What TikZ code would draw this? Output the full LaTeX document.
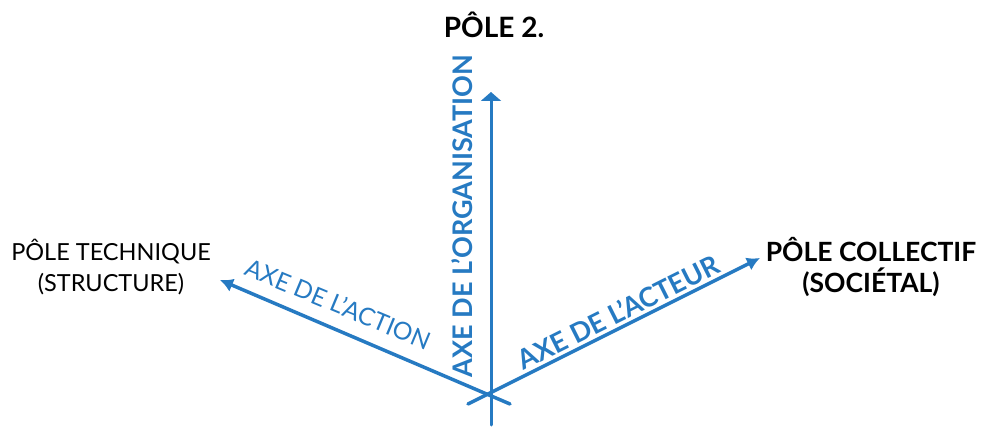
\documentclass[tikz,border=0pt]{standalone}
\usepackage{fontspec}
\setmainfont{Lato}
\usetikzlibrary{arrows.meta}
\definecolor{axblue}{RGB}{38,122,194}
\begin{document}
\begin{tikzpicture}[x=1pt,y=-1pt,
  axis/.style={draw=axblue,line width=3.5pt,line cap=round},
  pole/.style={text=black,align=center,inner sep=0pt,font=\fontsize{23.5}{31}\selectfont},
  polebold/.style={pole,font=\fontsize{26.5}{31}\selectfont\bfseries},
  axlabel/.style={text=axblue,inner sep=0pt,font=\fontsize{24.5}{28}\selectfont},
  axlabelbold/.style={axlabel,font=\fontsize{27}{30}\selectfont\bfseries}]
\useasboundingbox (0,0) rectangle (981,427);
\coordinate (O) at (491,394);
\coordinate (T) at (491,92);
\coordinate (L) at (220,280);
\coordinate (R) at (760,258);
\coordinate (Tb) at (491,425);
\coordinate (Lb) at (510,404);
\coordinate (Rb) at (468,404);
\draw[axis,line width=3pt,-{Triangle[length=9pt,width=20pt]}] (Tb) -- (T);
\draw[axis,-{Latex[length=13pt,width=14pt]}] (Lb) -- (L);
\draw[axis,-{Latex[length=13pt,width=14pt]}] (Rb) -- (R);
\node[polebold,font=\fontsize{28}{31}\selectfont\bfseries] (p2) at (494,25) {PÔLE 2.};
\node[pole] (pt) at (111,267) {PÔLE TECHNIQUE\\(STRUCTURE)};
\node[polebold] (pc) at (871,267) {PÔLE COLLECTIF\\(SOCIÉTAL)};
\node[axlabelbold,rotate=90] (ao) at (462,216) {AXE DE L’ORGANISATION};
\node[axlabel,rotate=-22.6] (aa) at (338,304) {AXE DE L’ACTION};
\node[axlabelbold,rotate=26.6] (ac) at (618,312) {AXE DE L’ACTEUR};
\end{tikzpicture}
\end{document}
